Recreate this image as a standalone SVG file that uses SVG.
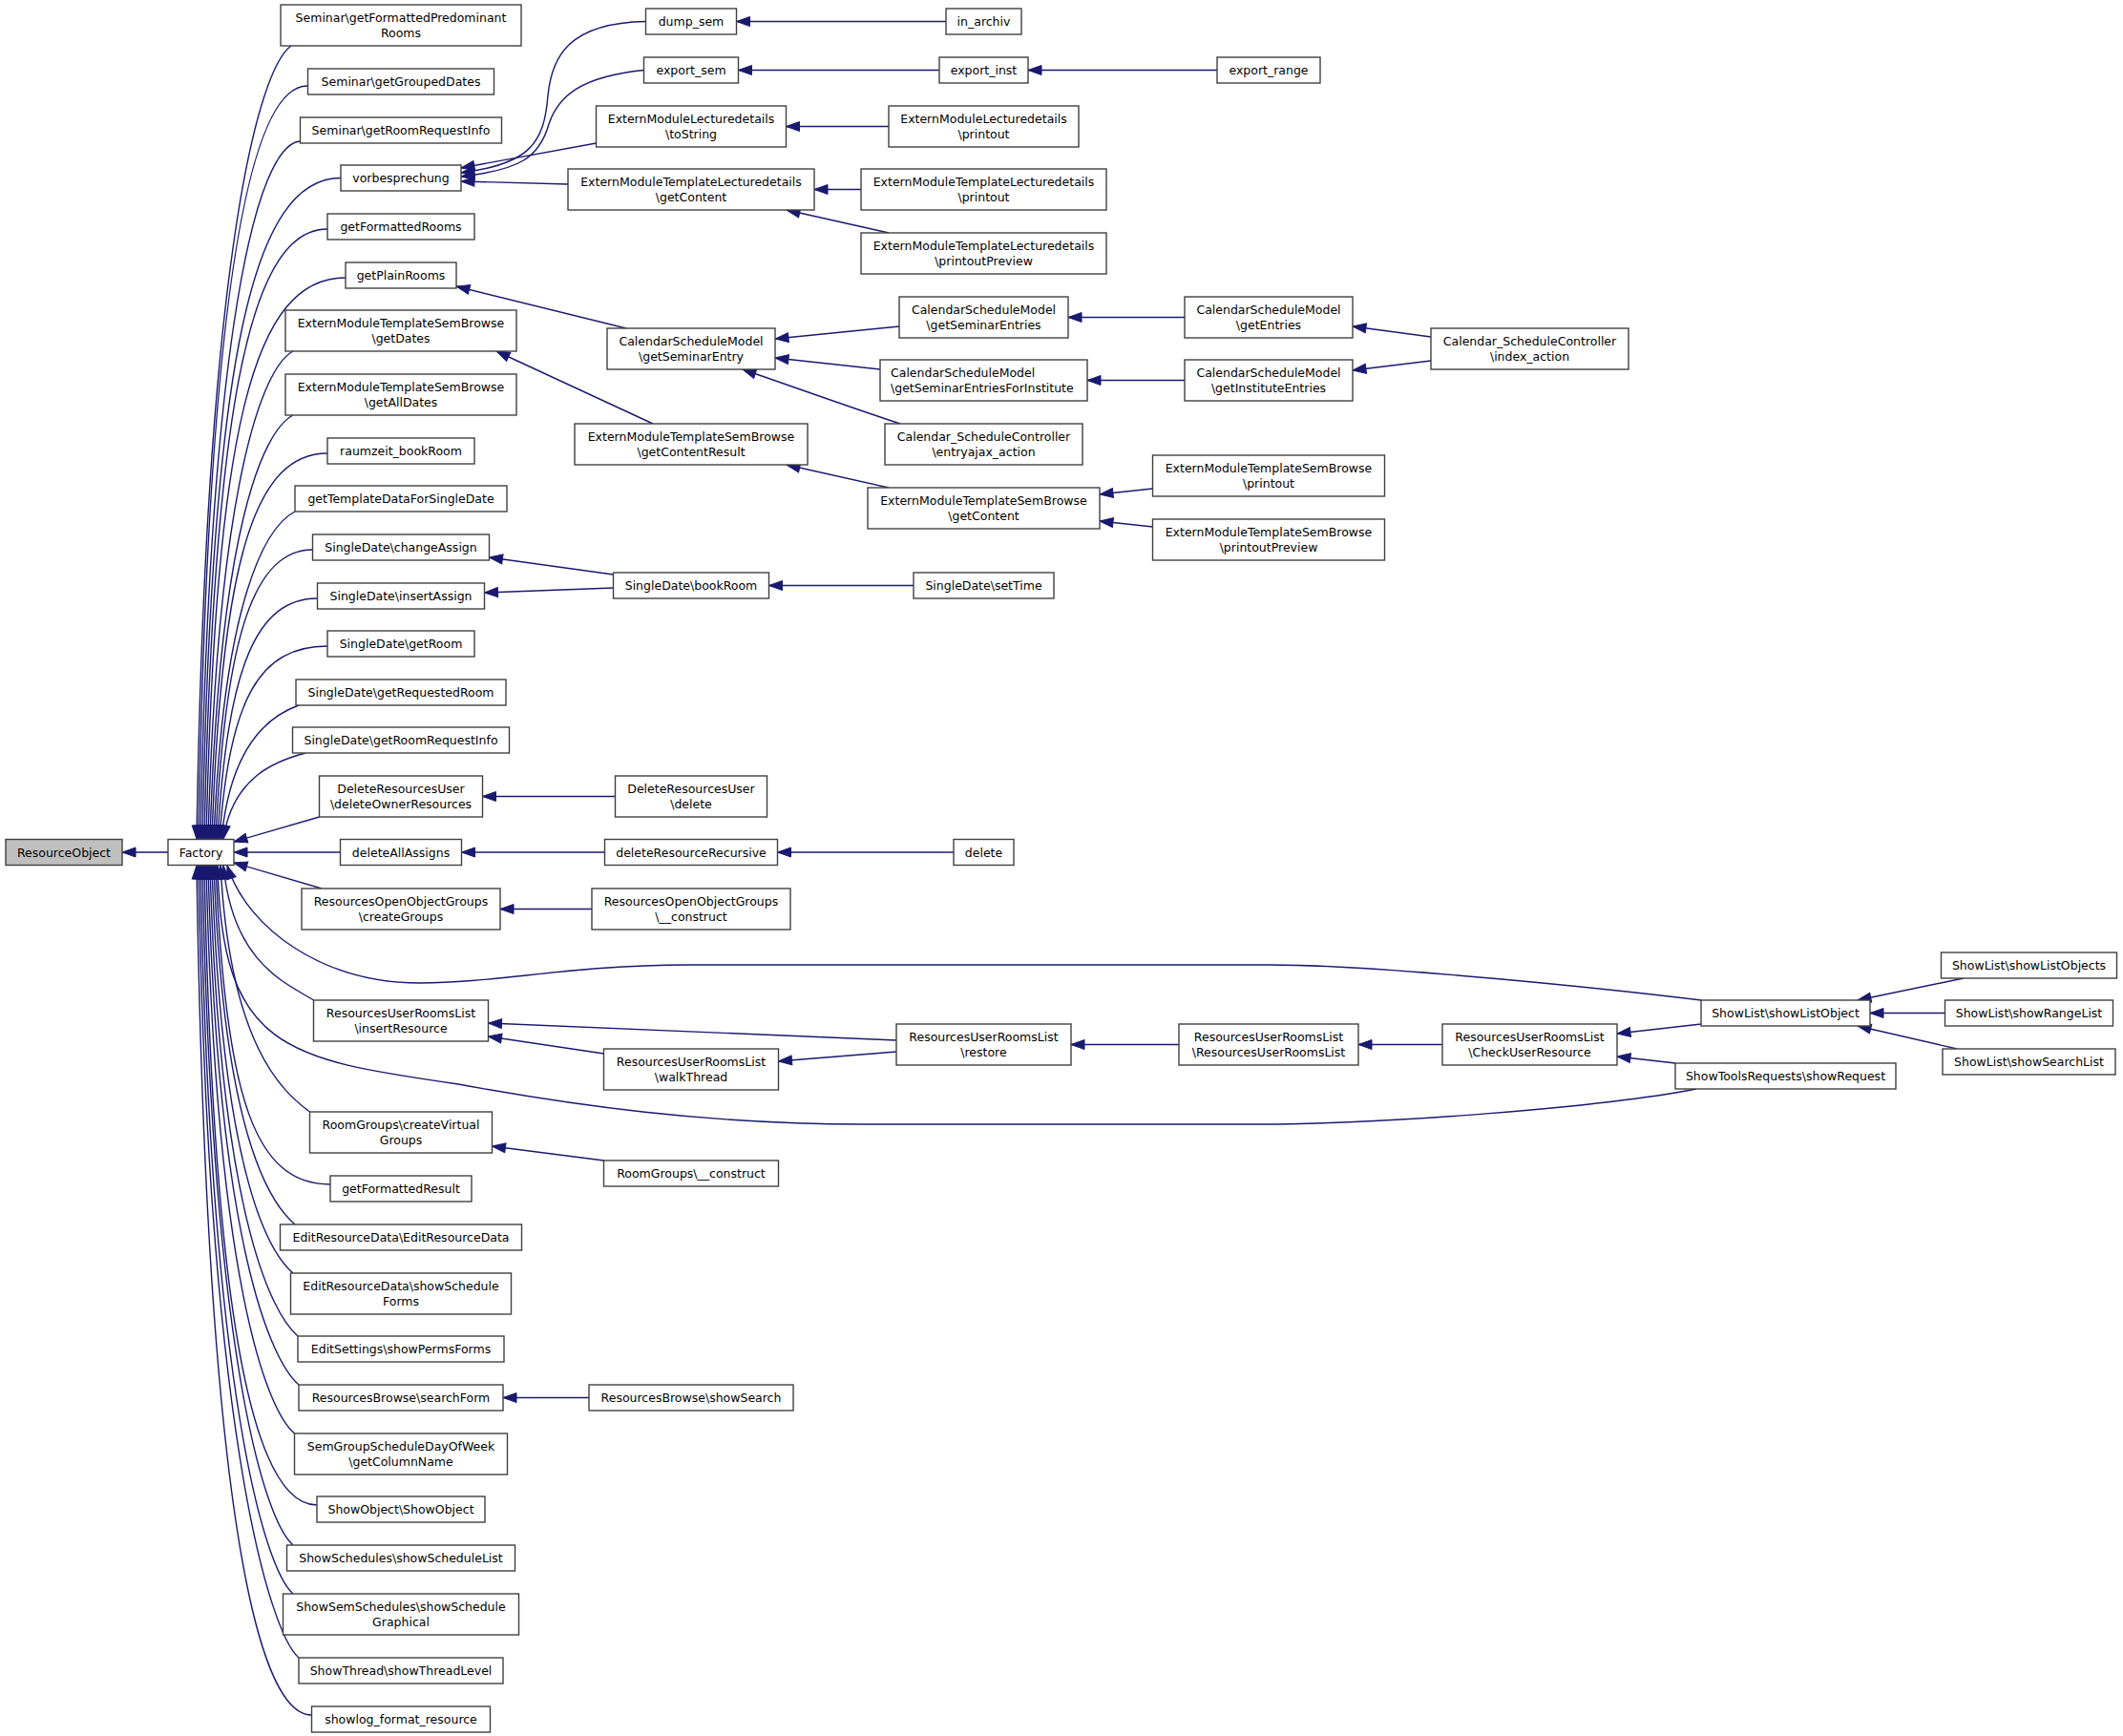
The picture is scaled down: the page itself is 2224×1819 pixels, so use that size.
<svg xmlns="http://www.w3.org/2000/svg" width="2224" height="1819" viewBox="0 0 2224 1819">
<defs>
<style>
.node rect{fill:#ffffff;stroke:#404040;stroke-width:1.4}
.node text{font-family:"DejaVu Sans","Liberation Sans",sans-serif;font-size:12.5px;fill:#000000;text-anchor:middle}
#edges path{fill:none;stroke:#191970;stroke-width:1.4;marker-end:url(#ah)}
</style>
<marker id="ah" markerUnits="userSpaceOnUse" viewBox="-15 -6 16 12" refX="0" refY="0" markerWidth="16" markerHeight="12" orient="auto" overflow="visible">
<path d="M0,0 L-14,-5 L-14,5 Z" fill="#191970" stroke="#191970" stroke-width="1"/>
</marker>
</defs>
<rect x="0" y="0" width="2224" height="1819" fill="#ffffff"/>
<g id="edges">
<path d="M176,893 L128,893"/>
<path d="M305,48 C270,73 216,272 206,879"/>
<path d="M322,90 C262,90 218,300 208,879"/>
<path d="M314,148 C269,153 220,344 210,879"/>
<path d="M357,186.5 C265,186.5 222,373 212,879"/>
<path d="M343,240 C265,240 224,410 214,879"/>
<path d="M362,291 C265,291 226,448 216,879"/>
<path d="M307,368 C275,385 228,506 218,879"/>
<path d="M307,435 C275,452 230,554 220,879"/>
<path d="M343,475 C268,475 232,582 222,879"/>
<path d="M309,536 C278,552 234,629 224,879"/>
<path d="M327.5,576 C268,576 236,660 226,879"/>
<path d="M332.5,627 C270,627 238,696 228,879"/>
<path d="M343,677 C272,677 240,732 230,879"/>
<path d="M313,739 C285,749 242,776 232,879"/>
<path d="M320,789 C290,797 244,813 234,879"/>
<path d="M334.5,856 L245,882"/>
<path d="M356.5,893 L245,893"/>
<path d="M337,931 L245,904"/>
<path d="M328.5,1048 C300,1030 244,1010 234,907"/>
<path d="M324.5,1165 C295,1143 241,1095 231,907"/>
<path d="M346,1241 C268,1241 236,1154 226,907"/>
<path d="M309,1283 C280,1258 234,1182 224,907"/>
<path d="M307,1334 C278,1309 232,1219 222,907"/>
<path d="M312,1400 C283,1375 230,1267 220,907"/>
<path d="M313,1451 C284,1426 228,1304 218,907"/>
<path d="M308.5,1502 C279,1477 226,1341 216,907"/>
<path d="M332,1577 C268,1577 224,1399 214,907"/>
<path d="M307,1619 C278,1594 222,1427 212,907"/>
<path d="M307,1670 C278,1645 220,1464 210,907"/>
<path d="M313,1737 C284,1712 218,1514 208,907"/>
<path d="M326.5,1797 C266,1797 216,1557 206,907"/>
<path d="M1782,1048 C1700,1038 1450,1011 1330,1011 L720,1011 C600,1011 520,1030 440,1030 C340,1030 260,975 238,907"/>
<path d="M1777,1141 C1680,1160 1450,1178 1315,1178 L904,1178 C740,1178 600,1158 480,1136 C300,1110 232,1100 228,907"/>
<path d="M991,22.5 L771.5,22.5"/>
<path d="M984,73.5 L773.5,73.5"/>
<path d="M1275,73.5 L1077,73.5"/>
<path d="M676.5,22.5 C595,24 578,60 574,100 C570,150 555,172 483,181"/>
<path d="M674.5,73.5 C610,80 585,100 575,130 C565,165 545,178 483,185"/>
<path d="M624.5,150 L483,176"/>
<path d="M595,193 L483,190"/>
<path d="M931,132.5 L823.5,132.5"/>
<path d="M902,198.5 L853,198.5"/>
<path d="M931,244 L824,220"/>
<path d="M656,344 L478,300"/>
<path d="M684,444 L520,368"/>
<path d="M942,342 L812,355"/>
<path d="M922,387 L812,375"/>
<path d="M943,444 C900,430 830,405 778,387"/>
<path d="M1241,332.5 L1119,332.5"/>
<path d="M1241,398.5 L1139,398.5"/>
<path d="M1499,353 L1417,342"/>
<path d="M1499,378 L1417,388"/>
<path d="M931,511 L824,487"/>
<path d="M1207.5,512 L1152,518"/>
<path d="M1207.5,552 L1152,546"/>
<path d="M642.5,602 L512.5,584"/>
<path d="M642.5,616 L507.5,621"/>
<path d="M957,613.5 L805.5,613.5"/>
<path d="M644.5,834.5 L505.5,834.5"/>
<path d="M633.5,893 L483.5,893"/>
<path d="M999,893 L814.5,893"/>
<path d="M620,952.5 L524,952.5"/>
<path d="M939,1090 L511.5,1072"/>
<path d="M632.5,1104 L511.5,1086"/>
<path d="M939,1102 L815.5,1112"/>
<path d="M1235,1094.5 L1122,1094.5"/>
<path d="M1511,1094.5 L1423,1094.5"/>
<path d="M1782,1073 L1694,1083"/>
<path d="M1755,1114 L1694,1107"/>
<path d="M2057,1025 L1946,1048"/>
<path d="M2037.5,1061.5 L1959,1061.5"/>
<path d="M2050,1099 L1946,1075"/>
<path d="M632.5,1216 L515.5,1201"/>
<path d="M617,1464.5 L527,1464.5"/>
</g>
<g id="n_resourceobject" class="node"><rect x="6" y="879.5" width="122" height="27" style="fill:#bfbfbf"/><text x="67" y="897.5">ResourceObject</text></g>
<g id="n_factory" class="node"><rect x="176" y="879.5" width="69" height="27"/><text x="210.5" y="897.5">Factory</text></g>
<g id="n_sgfpr" class="node"><rect x="294" y="5" width="252" height="43"/><text x="420" y="23">Seminar\getFormattedPredominant</text><text x="420" y="39">Rooms</text></g>
<g id="n_sggd" class="node"><rect x="322.5" y="72" width="195" height="27"/><text x="420" y="90">Seminar\getGroupedDates</text></g>
<g id="n_sgrri" class="node"><rect x="314.5" y="123" width="211" height="27"/><text x="420" y="141">Seminar\getRoomRequestInfo</text></g>
<g id="n_vorb" class="node"><rect x="357" y="173" width="126" height="27"/><text x="420" y="191">vorbesprechung</text></g>
<g id="n_gfr" class="node"><rect x="343" y="224" width="154" height="27"/><text x="420" y="242">getFormattedRooms</text></g>
<g id="n_gpr" class="node"><rect x="362" y="275" width="116" height="27"/><text x="420" y="293">getPlainRooms</text></g>
<g id="n_emtsb_gd" class="node"><rect x="299" y="325" width="242" height="43"/><text x="420" y="343">ExternModuleTemplateSemBrowse</text><text x="420" y="359">\getDates</text></g>
<g id="n_emtsb_gad" class="node"><rect x="299" y="392" width="242" height="43"/><text x="420" y="410">ExternModuleTemplateSemBrowse</text><text x="420" y="426">\getAllDates</text></g>
<g id="n_rzbr" class="node"><rect x="343" y="459" width="154" height="27"/><text x="420" y="477">raumzeit_bookRoom</text></g>
<g id="n_gtdsd" class="node"><rect x="309" y="509" width="222" height="27"/><text x="420" y="527">getTemplateDataForSingleDate</text></g>
<g id="n_sdca" class="node"><rect x="327.5" y="560" width="185" height="27"/><text x="420" y="578">SingleDate\changeAssign</text></g>
<g id="n_sdia" class="node"><rect x="332.5" y="611" width="175" height="27"/><text x="420" y="629">SingleDate\insertAssign</text></g>
<g id="n_sdgr" class="node"><rect x="343" y="661" width="154" height="27"/><text x="420" y="679">SingleDate\getRoom</text></g>
<g id="n_sdgrr" class="node"><rect x="310" y="712" width="220" height="27"/><text x="420" y="730">SingleDate\getRequestedRoom</text></g>
<g id="n_sdgrri" class="node"><rect x="306.5" y="762" width="227" height="27"/><text x="420" y="780">SingleDate\getRoomRequestInfo</text></g>
<g id="n_drudor" class="node"><rect x="334.5" y="813" width="171" height="43"/><text x="420" y="831">DeleteResourcesUser</text><text x="420" y="847">\deleteOwnerResources</text></g>
<g id="n_daa" class="node"><rect x="356.5" y="879.5" width="127" height="27"/><text x="420" y="897.5">deleteAllAssigns</text></g>
<g id="n_roogcg" class="node"><rect x="316" y="931" width="208" height="43"/><text x="420" y="949">ResourcesOpenObjectGroups</text><text x="420" y="965">\createGroups</text></g>
<g id="n_rurlir" class="node"><rect x="328.5" y="1048" width="183" height="43"/><text x="420" y="1066">ResourcesUserRoomsList</text><text x="420" y="1082">\insertResource</text></g>
<g id="n_rgcvg" class="node"><rect x="324.5" y="1165" width="191" height="43"/><text x="420" y="1183">RoomGroups\createVirtual</text><text x="420" y="1199">Groups</text></g>
<g id="n_gfres" class="node"><rect x="346" y="1232" width="148" height="27"/><text x="420" y="1250">getFormattedResult</text></g>
<g id="n_erder" class="node"><rect x="293.5" y="1283" width="253" height="27"/><text x="420" y="1301">EditResourceData\EditResourceData</text></g>
<g id="n_erdssf" class="node"><rect x="304.5" y="1334" width="231" height="43"/><text x="420" y="1352">EditResourceData\showSchedule</text><text x="420" y="1368">Forms</text></g>
<g id="n_esspf" class="node"><rect x="312" y="1400" width="216" height="27"/><text x="420" y="1418">EditSettings\showPermsForms</text></g>
<g id="n_rbsf" class="node"><rect x="313" y="1451" width="214" height="27"/><text x="420" y="1469">ResourcesBrowse\searchForm</text></g>
<g id="n_gsdw" class="node"><rect x="308.5" y="1502" width="223" height="43"/><text x="420" y="1520">SemGroupScheduleDayOfWeek</text><text x="420" y="1536">\getColumnName</text></g>
<g id="n_soso" class="node"><rect x="332" y="1568" width="176" height="27"/><text x="420" y="1586">ShowObject\ShowObject</text></g>
<g id="n_sssl" class="node"><rect x="300.5" y="1619" width="239" height="27"/><text x="420" y="1637">ShowSchedules\showScheduleList</text></g>
<g id="n_ssssg" class="node"><rect x="296.5" y="1670" width="247" height="43"/><text x="420" y="1688">ShowSemSchedules\showSchedule</text><text x="420" y="1704">Graphical</text></g>
<g id="n_stst" class="node"><rect x="313" y="1737" width="214" height="27"/><text x="420" y="1755">ShowThread\showThreadLevel</text></g>
<g id="n_sfr" class="node"><rect x="326.5" y="1788" width="187" height="27"/><text x="420" y="1806">showlog_format_resource</text></g>
<g id="n_dump" class="node"><rect x="676.5" y="9" width="95" height="27"/><text x="724" y="27">dump_sem</text></g>
<g id="n_exps" class="node"><rect x="674.5" y="60" width="99" height="27"/><text x="724" y="78">export_sem</text></g>
<g id="n_emlts" class="node"><rect x="624.5" y="111" width="199" height="43"/><text x="724" y="129">ExternModuleLecturedetails</text><text x="724" y="145">\toString</text></g>
<g id="n_emtlgc" class="node"><rect x="595" y="177" width="258" height="43"/><text x="724" y="195">ExternModuleTemplateLecturedetails</text><text x="724" y="211">\getContent</text></g>
<g id="n_csmgse" class="node"><rect x="636" y="344" width="176" height="43"/><text x="724" y="362">CalendarScheduleModel</text><text x="724" y="378">\getSeminarEntry</text></g>
<g id="n_emtsbgcr" class="node"><rect x="602" y="444" width="244" height="43"/><text x="724" y="462">ExternModuleTemplateSemBrowse</text><text x="724" y="478">\getContentResult</text></g>
<g id="n_sdbr" class="node"><rect x="642.5" y="600" width="163" height="27"/><text x="724" y="618">SingleDate\bookRoom</text></g>
<g id="n_drud" class="node"><rect x="644.5" y="813" width="159" height="43"/><text x="724" y="831">DeleteResourcesUser</text><text x="724" y="847">\delete</text></g>
<g id="n_drr" class="node"><rect x="633.5" y="879.5" width="181" height="27"/><text x="724" y="897.5">deleteResourceRecursive</text></g>
<g id="n_roogc" class="node"><rect x="620" y="931" width="208" height="43"/><text x="724" y="949">ResourcesOpenObjectGroups</text><text x="724" y="965">\__construct</text></g>
<g id="n_rurlwt" class="node"><rect x="632.5" y="1099" width="183" height="43"/><text x="724" y="1117">ResourcesUserRoomsList</text><text x="724" y="1133">\walkThread</text></g>
<g id="n_rgc" class="node"><rect x="632.5" y="1216" width="183" height="27"/><text x="724" y="1234">RoomGroups\__construct</text></g>
<g id="n_rbss" class="node"><rect x="617" y="1451" width="214" height="27"/><text x="724" y="1469">ResourcesBrowse\showSearch</text></g>
<g id="n_inarch" class="node"><rect x="991" y="9" width="79" height="27"/><text x="1030.5" y="27">in_archiv</text></g>
<g id="n_expi" class="node"><rect x="984" y="60" width="93" height="27"/><text x="1030.5" y="78">export_inst</text></g>
<g id="n_emlp" class="node"><rect x="931" y="111" width="199" height="43"/><text x="1030.5" y="129">ExternModuleLecturedetails</text><text x="1030.5" y="145">\printout</text></g>
<g id="n_emtlp" class="node"><rect x="902" y="177" width="257" height="43"/><text x="1030.5" y="195">ExternModuleTemplateLecturedetails</text><text x="1030.5" y="211">\printout</text></g>
<g id="n_emtlpp" class="node"><rect x="902" y="244" width="257" height="43"/><text x="1030.5" y="262">ExternModuleTemplateLecturedetails</text><text x="1030.5" y="278">\printoutPreview</text></g>
<g id="n_csmgses" class="node"><rect x="942" y="311" width="177" height="43"/><text x="1030.5" y="329">CalendarScheduleModel</text><text x="1030.5" y="345">\getSeminarEntries</text></g>
<g id="n_csmgsefi" class="node"><rect x="922" y="377" width="217" height="43"/><text x="933" y="395" style="text-anchor:start">CalendarScheduleModel</text><text x="933" y="411" style="text-anchor:start">\getSeminarEntriesForInstitute</text></g>
<g id="n_cscea" class="node"><rect x="927" y="444" width="207" height="43"/><text x="1030.5" y="462">Calendar_ScheduleController</text><text x="1030.5" y="478">\entryajax_action</text></g>
<g id="n_emtsbgc" class="node"><rect x="909" y="511" width="243" height="43"/><text x="1030.5" y="529">ExternModuleTemplateSemBrowse</text><text x="1030.5" y="545">\getContent</text></g>
<g id="n_sdst" class="node"><rect x="957" y="600" width="147" height="27"/><text x="1030.5" y="618">SingleDate\setTime</text></g>
<g id="n_del" class="node"><rect x="999" y="879.5" width="63" height="27"/><text x="1030.5" y="897.5">delete</text></g>
<g id="n_rurlr" class="node"><rect x="939" y="1073" width="183" height="43"/><text x="1030.5" y="1091">ResourcesUserRoomsList</text><text x="1030.5" y="1107">\restore</text></g>
<g id="n_expr" class="node"><rect x="1275" y="60" width="108" height="27"/><text x="1329" y="78">export_range</text></g>
<g id="n_csmge" class="node"><rect x="1241" y="311" width="176" height="43"/><text x="1329" y="329">CalendarScheduleModel</text><text x="1329" y="345">\getEntries</text></g>
<g id="n_csmgie" class="node"><rect x="1241" y="377" width="176" height="43"/><text x="1329" y="395">CalendarScheduleModel</text><text x="1329" y="411">\getInstituteEntries</text></g>
<g id="n_emtsbp" class="node"><rect x="1207.5" y="477" width="243" height="43"/><text x="1329" y="495">ExternModuleTemplateSemBrowse</text><text x="1329" y="511">\printout</text></g>
<g id="n_emtsbpp" class="node"><rect x="1207.5" y="544" width="243" height="43"/><text x="1329" y="562">ExternModuleTemplateSemBrowse</text><text x="1329" y="578">\printoutPreview</text></g>
<g id="n_rurlrurl" class="node"><rect x="1235" y="1073" width="188" height="43"/><text x="1329" y="1091">ResourcesUserRoomsList</text><text x="1329" y="1107">\ResourcesUserRoomsList</text></g>
<g id="n_cscia" class="node"><rect x="1499" y="344" width="207" height="43"/><text x="1602.5" y="362">Calendar_ScheduleController</text><text x="1602.5" y="378">\index_action</text></g>
<g id="n_rurlcur" class="node"><rect x="1511" y="1073" width="183" height="43"/><text x="1602.5" y="1091">ResourcesUserRoomsList</text><text x="1602.5" y="1107">\CheckUserResource</text></g>
<g id="n_slslo" class="node"><rect x="1782" y="1048" width="177" height="27"/><text x="1870.5" y="1066">ShowList\showListObject</text></g>
<g id="n_strsr" class="node"><rect x="1755" y="1114" width="231" height="27"/><text x="1870.5" y="1132">ShowToolsRequests\showRequest</text></g>
<g id="n_slslos" class="node"><rect x="2033.5" y="998" width="184" height="27"/><text x="2125.5" y="1016">ShowList\showListObjects</text></g>
<g id="n_slsrl" class="node"><rect x="2037.5" y="1048" width="176" height="27"/><text x="2125.5" y="1066">ShowList\showRangeList</text></g>
<g id="n_slssl" class="node"><rect x="2035" y="1099" width="181" height="27"/><text x="2125.5" y="1117">ShowList\showSearchList</text></g>
</svg>
